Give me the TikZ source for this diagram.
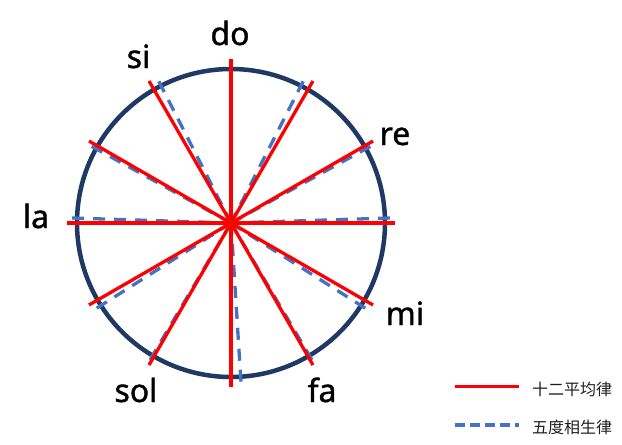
\documentclass[tikz,border=0pt]{standalone}
\usepackage{fontspec}
\setmainfont{Noto Sans}
\newfontfamily\labfont[FakeBold=1.2]{Noto Sans}
\newfontfamily\cjk{Noto Sans CJK SC}
\definecolor{navy}{RGB}{32,56,100}
\definecolor{pblue}{RGB}{68,114,196}
\definecolor{ered}{RGB}{255,0,0}
\definecolor{legtext}{RGB}{30,30,30}
\tikzset{
  ring/.style={draw=navy,line width=4.5pt},
  redline/.style={draw=ered,line width=3.3pt},
  blueline/.style={draw=pblue,line width=3.3pt,dash pattern=on 12pt off 9pt},
  legblue/.style={draw=pblue,line width=3.3pt,dash pattern=on 10pt off 5pt},
  notelabel/.style={anchor=base,inner sep=0pt,font=\labfont\fontsize{32}{32}\selectfont,text=black},
  legtext/.style={anchor=west,inner sep=0pt,font=\cjk\fontsize{16}{16}\selectfont,text=legtext},
}
\begin{document}
\begin{tikzpicture}[x=1pt,y=-1pt]
\path[use as bounding box] (0,0) rectangle (622,445);
\coordinate (c) at (231,223);
\draw[ring] (c) circle[radius=154pt];
\foreach \ct in {0,90,204,294,408,498,588,702,792,906,996,1110}
  \draw[blueline] (c) -- ++({90-0.3*\ct}:163pt);
\foreach \a in {90,60,30,0,-30,-60}
  \draw[redline] (c) ++(\a:164pt) -- ++(\a+180:328pt);
\node[notelabel] (do) at (230,45) {do};
\node[notelabel] (si) at (138.5,68) {si};
\node[notelabel] (re) at (395,145) {re};
\node[notelabel] (la) at (36,228) {la};
\node[notelabel] (mi) at (405,325) {mi};
\node[notelabel] (sol) at (136,402) {sol};
\node[notelabel] (fa) at (322,402) {fa};
\coordinate (r1) at (455,386.5);
\coordinate (r2) at (519,386.5);
\draw[redline] (r1) -- (r2);
\node[legtext] (t1) at (532,389) {十二平均律};
\coordinate (b1) at (455,425);
\coordinate (b2) at (519,425);
\draw[legblue] (b1) -- (b2);
\node[legtext] (t2) at (532,427) {五度相生律};
\end{tikzpicture}
\end{document}
